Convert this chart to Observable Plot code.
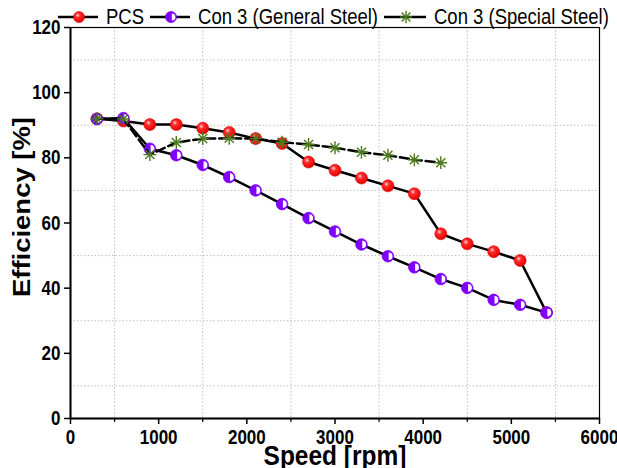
<!DOCTYPE html>
<html>
<head>
<meta charset="utf-8">
<script src="https://cdn.jsdelivr.net/npm/d3@7"></script>
<script src="https://cdn.jsdelivr.net/npm/@observablehq/plot@0.6"></script>
<style>
  html, body { margin: 0; padding: 0; background: white; }
  #chart { position: relative; width: 617px; height: 468px; overflow: hidden; }
  #legend { position: absolute; left: 58px; top: 5px; height: 24px; display: flex; align-items: center; white-space: nowrap; color: black; }
  #legend .item { display: flex; align-items: center; }
  #legend svg { display: block; margin-right: 8px; }
  #legend span { display: inline-block; margin-right: 6px; line-height: 24px; transform: scaleY(1.2); }
</style>
</head>
<body>
<div id="chart"><div id="legend"></div></div>
<script>
// ---------- data ----------
const speed = [300, 600, 900, 1200, 1500, 1800, 2100, 2400, 2700, 3000, 3300, 3600, 3900, 4200, 4500, 4800, 5100, 5400];
const pcs = [92.0, 91.3, 90.2, 90.2, 89.1, 87.8, 85.9, 84.4, 78.7, 76.2, 73.8, 71.4, 69.0, 56.7, 53.6, 51.2, 48.5, 32.5];
const generalSteel = [91.9, 92.2, 82.8, 80.8, 77.8, 74.1, 70.0, 65.8, 61.5, 57.4, 53.4, 49.8, 46.4, 42.8, 40.1, 36.4, 34.9, 32.5];
const speedSpecial = [300, 600, 900, 1200, 1500, 1800, 2100, 2400, 2700, 3000, 3300, 3600, 3900, 4200];
const specialSteel = [92.0, 91.9, 81.0, 84.7, 85.9, 86.0, 85.9, 84.8, 84.1, 83.1, 81.7, 80.8, 79.4, 78.5];
const seriesNames = ["PCS", "Con 3 (General Steel)", "Con 3 (Special Steel)"];
const xTicks = [0, 1000, 2000, 3000, 4000, 5000, 6000];
const xMinor = [500, 1500, 2500, 3500, 4500, 5500];
const yTicks = [0, 20, 40, 60, 80, 100, 120];
const yMinor = [10, 30, 50, 70, 90, 110];
const xLabel = "Speed [rpm]";
const yLabel = "Efficiency [%]";

// ---------- fonts ----------
const HF = '"Liberation Sans", Arial, sans-serif';
const tickSize = 17;
const legendSize = 18.5;
const xLabelSize = 24.5;
const stretch = 1.2;
const xLabelStretch = 1.12;

// ---------- colors / symbols ----------
const purple = "#8000ff";
const green = "#4a7a1c";
const rightHalf = {
  draw(ctx, size) {
    const r = Math.sqrt(size / Math.PI);
    ctx.moveTo(0, -r);
    ctx.arc(0, 0, r, -Math.PI / 2, Math.PI / 2);
    ctx.closePath();
  }
};
const star8 = {
  draw(ctx, size) {
    const r = Math.sqrt(size / Math.PI);
    for (const a of [0, Math.PI / 4, Math.PI / 2, 3 * Math.PI / 4]) {
      ctx.moveTo(r * Math.cos(a), r * Math.sin(a));
      ctx.lineTo(-r * Math.cos(a), -r * Math.sin(a));
    }
  }
};

const pcsData = speed.map((s, i) => ({x: s, y: pcs[i]}));
const genData = speed.map((s, i) => ({x: s, y: generalSteel[i]}));
const speData = speedSpecial.map((s, i) => ({x: s, y: specialSteel[i]}));

const grid = {stroke: "#c0c0c0", strokeOpacity: 1, strokeWidth: 1, strokeDasharray: "1.5 2"};

const chart = Plot.plot({
  width: 617,
  height: 468,
  marginLeft: 70,
  marginRight: 18,
  marginTop: 27,
  marginBottom: 50,
  style: {fontFamily: HF, color: "black", background: "white", overflow: "visible"},
  x: {domain: [0, 6000]},
  y: {domain: [0, 120]},
  marks: [
    Plot.gridX(xMinor, grid),
    Plot.gridY(yMinor, grid),
    Plot.frame({stroke: "black", strokeWidth: 1.2}),
    Plot.axisX(xMinor, {tickSize: 4, tickFormat: () => "", label: null, strokeWidth: 1.2}),
    Plot.axisX(xTicks, {tickSize: 6, tickPadding: 5, tickFormat: d => String(d), label: null, fontSize: tickSize, fontWeight: "bold", strokeWidth: 1.5}),
    Plot.axisY(yTicks, {tickSize: 6, tickPadding: 4, tickFormat: d => String(d), label: null, fontSize: tickSize, fontWeight: "bold", strokeWidth: 1.5}),
    Plot.ruleX([0], {stroke: "black", strokeWidth: 2}),
    Plot.ruleY([0], {stroke: "black", strokeWidth: 2}),
    // PCS
    Plot.line(pcsData, {x: "x", y: "y", stroke: "black", strokeWidth: 2.5}),
    Plot.dot(pcsData, {x: "x", y: "y", r: 6, fill: "url(#redGrad)", stroke: "#e00000", strokeWidth: 0.6}),
    // General steel
    Plot.line(genData, {x: "x", y: "y", stroke: "black", strokeWidth: 2.5}),
    Plot.dot(genData, {x: "x", y: "y", r: 5.8, fill: purple, stroke: purple, strokeWidth: 0.8}),
    Plot.dot(genData, {x: "x", y: "y", r: 3.8, symbol: rightHalf, fill: "white", stroke: "none", dx: 0.8}),
    // Special steel
    Plot.line(speData, {x: "x", y: "y", stroke: "black", strokeWidth: 2.5, strokeDasharray: "9 4"}),
    Plot.dot(speData, {x: "x", y: "y", r: 6.4, symbol: star8, fill: "none", stroke: green, strokeWidth: 1.4}),
    // axis labels
    Plot.text([xLabel], {frameAnchor: "bottom", dy: 46, fontSize: xLabelSize, fontWeight: "bold", fontFamily: HF, fill: "black"}),
    Plot.text([yLabel], {frameAnchor: "left", dx: -48, dy: -16, rotate: -90, textAnchor: "middle", fontSize: 23, fontWeight: "bold", fontFamily: HF, fill: "black"})
  ]
});

chart.insertAdjacentHTML("afterbegin",
  `<defs><radialGradient id="redGrad" cx="0.38" cy="0.35" r="0.7">
     <stop offset="0" stop-color="#ffd6d6"/>
     <stop offset="0.3" stop-color="#ff2a2a"/>
     <stop offset="1" stop-color="#e00000"/>
   </radialGradient></defs>`);

// text proportions: reference glyphs are taller than wide
chart.querySelectorAll("text").forEach(t => {
  if (t.textContent === yLabel) {
    t.setAttribute("textLength", "180");
    t.setAttribute("lengthAdjust", "spacingAndGlyphs");
  } else if (t.textContent !== "") {
    const k = t.textContent === xLabel ? xLabelStretch : stretch;
    const tr = t.getAttribute("transform") || "";
    t.setAttribute("transform", (tr + ` scale(1,${k})`).trim());
  }
});

const container = document.getElementById("chart");
container.insertBefore(chart, container.firstChild);

// ---------- legend ----------
const legend = document.getElementById("legend");
legend.style.fontFamily = HF;
legend.style.fontSize = legendSize + "px";
const samples = [
  `<svg width="40" height="24"><defs><radialGradient id="redGradL" cx="0.38" cy="0.35" r="0.7"><stop offset="0" stop-color="#ffd6d6"/><stop offset="0.3" stop-color="#ff2a2a"/><stop offset="1" stop-color="#e00000"/></radialGradient></defs><line x1="0" x2="40" y1="12" y2="12" stroke="black" stroke-width="2.5"/><circle cx="21" cy="12" r="5.5" fill="url(#redGradL)" stroke="#e00000" stroke-width="0.6"/></svg>`,
  `<svg width="40" height="24"><line x1="0" x2="40" y1="12" y2="12" stroke="black" stroke-width="2.5"/><circle cx="21" cy="12" r="5.5" fill="${purple}" stroke="${purple}" stroke-width="0.8"/><path transform="translate(21.8,12)" d="M0,-3.6A3.6,3.6 0 0 1 0,3.6Z" fill="white"/></svg>`,
  `<svg width="42" height="24"><line x1="0" x2="42" y1="12" y2="12" stroke="black" stroke-width="2.5"/><g transform="translate(22,12)" stroke="${green}" stroke-width="1.4"><line x1="-6.2" x2="6.2" y1="0" y2="0"/><line x1="0" x2="0" y1="-6.2" y2="6.2"/><line x1="-4.4" x2="4.4" y1="-4.4" y2="4.4"/><line x1="-4.4" x2="4.4" y1="4.4" y2="-4.4"/></g></svg>`
];
seriesNames.forEach((name, i) => {
  const item = document.createElement("div");
  item.className = "item";
  item.innerHTML = samples[i] + `<span>${name}</span>`;
  legend.appendChild(item);
});
</script>
</body>
</html>
